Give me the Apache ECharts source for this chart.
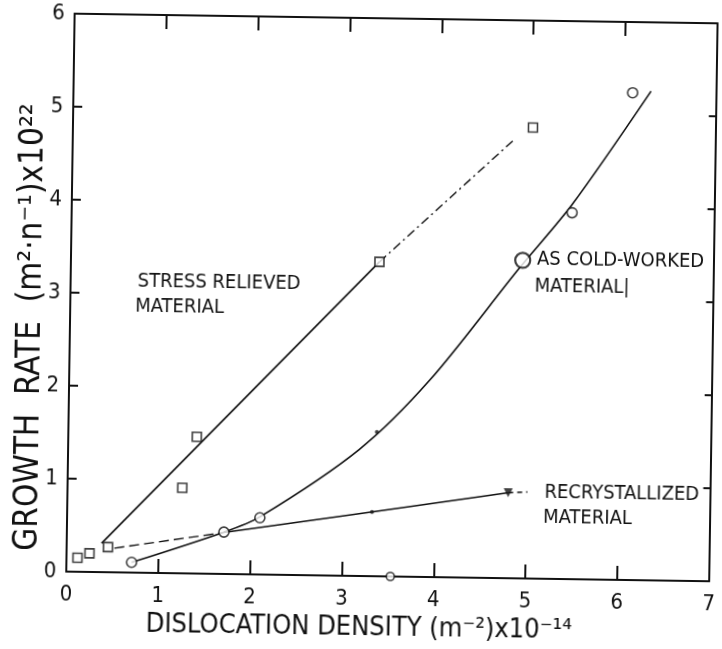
<!DOCTYPE html>
<html><head><meta charset="utf-8">
<script src="https://cdn.jsdelivr.net/npm/echarts@6/dist/echarts.min.js"></script>
<style>
html,body{margin:0;padding:0;background:#fff;overflow:hidden;}
#c{width:722px;height:649px;transform:rotate(0.86deg);transform-origin:50% 50%;}
</style></head><body><div id="c"></div>
<script>
// ---- data ----
const xTickLabels = ['0','1','2','3','4','5','6','7'];
const yTickLabels = ['0','1','2','3','4','5','6'];

// Stress relieved material (open squares)
const stressPoints = [[0.12,0.15],[0.25,0.20],[0.45,0.27],[1.25,0.92],[1.40,1.47],[3.36,3.38],[5.01,4.85]];
const stressFit = [[0.38,0.31],[3.36,3.38]];
const stressFitExt = [[3.36,3.38],[4.80,4.71]];

// As cold-worked material (open circles)
const coldPoints = [[0.71,0.11],[1.71,0.45],[2.10,0.61],[5.45,3.94],[6.09,5.24]];
const coldSmallPoints = [[3.36,1.55]];
const coldBigPoints = [[4.92,3.42]];
const coldCurve = [[0.71,0.11],[1.71,0.45],[2.10,0.62],[3.17,1.36],[3.93,2.12],[4.88,3.33],[5.45,4.03],[6.29,5.26]];

// Recrystallized material (filled triangle)
const recrystPoints = [[4.80,0.92]];
const recrystDot = [[3.32,0.69]];
const recrystFitDash = [[0.52,0.26],[1.71,0.445]];
const recrystFit = [[1.71,0.445],[3.32,0.69],[4.80,0.92]];
const recrystLeader = [[4.80,0.92],[5.01,0.93]];

// point lying on the x axis
const axisPoints = [[3.53,0.0]];

// ---- chart ----
const FONT = "'DejaVu Sans Condensed','Liberation Sans Narrow','Roboto Condensed','DejaVu Sans',sans-serif";
const INK = '#111';
const chart = echarts.init(document.getElementById('c'), null, {renderer:'canvas'});

function frameAxis(extra){
  return Object.assign({
    type:'value', splitLine:{show:false},
    axisLine:{show:true, onZero:false, lineStyle:{color:INK, width:2}},
    axisTick:{show:true, inside:true, length:12, lineStyle:{color:INK, width:2}},
    axisLabel:{show:false}
  }, extra);
}

const lineBase = {type:'line', symbol:'none', silent:true, z:2};
const option = {
  animation:false,
  backgroundColor:'#fff',
  grid:{left:70, right:3, top:18, bottom:73},
  xAxis:[
    frameAxis({min:0, max:7, interval:1, position:'bottom',
      axisTick:{show:true, inside:true, length:14, lineStyle:{color:INK, width:2}},
      axisLabel:{show:true, margin:12, fontSize:22, color:INK, fontFamily:FONT,
        formatter:(v)=>xTickLabels[Math.round(v)]},
      name:'DISLOCATION DENSITY (m⁻²)x10⁻¹⁴', nameLocation:'middle', nameGap:37,
      nameTextStyle:{fontSize:27, color:INK, fontFamily:FONT, padding:[0,56,0,0]}}),
    frameAxis({min:0, max:7, interval:1, position:'top',
      axisTick:{show:true, inside:true, length:14, lineStyle:{color:INK, width:2}}})
  ],
  yAxis:[
    frameAxis({min:0, max:6, interval:1, position:'left',
      axisTick:{show:true, inside:true, length:9, lineStyle:{color:INK, width:2}},
      axisLabel:{show:true, margin:10, fontSize:22, color:INK, fontFamily:FONT,
        formatter:(v)=>yTickLabels[Math.round(v)]}}),
    frameAxis({min:0, max:6, interval:1, position:'right',
      axisTick:{show:true, inside:true, length:7, lineStyle:{color:INK, width:2}}})
  ],
  series:[
    Object.assign({}, lineBase, {name:'stress fit', data:stressFit, lineStyle:{color:INK, width:1.6}}),
    Object.assign({}, lineBase, {name:'stress fit ext', data:stressFitExt, lineStyle:{color:INK, width:1.4, type:[9,4,2,4]}}),
    Object.assign({}, lineBase, {name:'cold curve', data:coldCurve, smooth:0.3, lineStyle:{color:INK, width:1.6}}),
    Object.assign({}, lineBase, {name:'recryst dash', data:recrystFitDash, lineStyle:{color:INK, width:1.4, type:[10,5]}}),
    Object.assign({}, lineBase, {name:'recryst fit', data:recrystFit, lineStyle:{color:INK, width:1.5}}),
    Object.assign({}, lineBase, {name:'recryst leader', data:recrystLeader, lineStyle:{color:INK, width:1.4, type:[5,4]}}),
    {type:'scatter', name:'stress relieved', data:stressPoints, symbol:'rect', symbolSize:9, z:3,
      itemStyle:{color:'#fff', borderColor:INK, borderWidth:1.6}},
    {type:'scatter', name:'cold worked', data:coldPoints, symbol:'circle', symbolSize:10, z:3,
      itemStyle:{color:'#fff', borderColor:INK, borderWidth:1.6}},
    {type:'scatter', name:'cold worked small', data:coldSmallPoints, symbol:'circle', symbolSize:4, z:3,
      itemStyle:{color:INK}},
    {type:'scatter', name:'cold worked big', data:coldBigPoints, symbol:'circle', symbolSize:15, z:3,
      itemStyle:{color:'#fff', borderColor:INK, borderWidth:2.2}},
    {type:'scatter', name:'recrystallized', data:recrystPoints, symbol:'triangle', symbolRotate:180, symbolSize:9, z:3,
      itemStyle:{color:INK}},
    {type:'scatter', name:'recryst dot', data:recrystDot, symbol:'circle', symbolSize:4, z:3, itemStyle:{color:INK}},
    {type:'scatter', name:'axis point', data:axisPoints, symbol:'circle', symbolSize:8, z:3,
      itemStyle:{color:'#fff', borderColor:INK, borderWidth:1.6}}
  ],
  graphic:[
    {type:'text', x:31, y:332, rotation:Math.PI/2,
      style:{text:'GROWTH  RATE  (m²·n⁻¹)x10²²', fontSize:33, fontFamily:FONT, fill:INK, align:'center', verticalAlign:'middle'}},
    {type:'text', x:137, y:285, style:{text:'STRESS RELIEVED', fontSize:20, fontFamily:FONT, fill:INK, verticalAlign:'middle'}},
    {type:'text', x:135, y:310, style:{text:'MATERIAL', fontSize:20, fontFamily:FONT, fill:INK, verticalAlign:'middle'}},
    {type:'text', x:536, y:257, style:{text:'AS COLD-WORKED', fontSize:20, fontFamily:FONT, fill:INK, verticalAlign:'middle'}},
    {type:'text', x:534, y:284, style:{text:'MATERIAL|', fontSize:20, fontFamily:FONT, fill:INK, verticalAlign:'middle'}},
    {type:'text', x:547, y:490, style:{text:'RECRYSTALLIZED', fontSize:20, fontFamily:FONT, fill:INK, verticalAlign:'middle'}},
    {type:'text', x:546, y:515, style:{text:'MATERIAL', fontSize:20, fontFamily:FONT, fill:INK, verticalAlign:'middle'}}
  ]
};
chart.setOption(option);
</script></body></html>
